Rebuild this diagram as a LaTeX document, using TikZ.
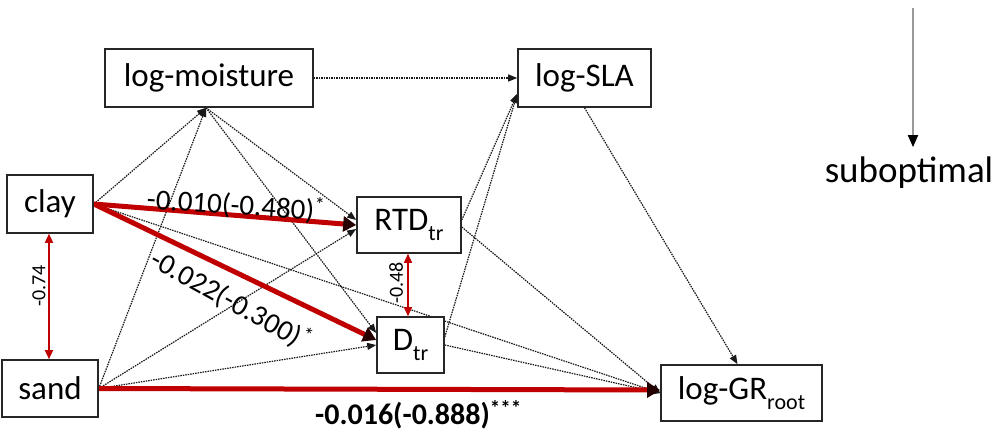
\documentclass[tikz,border=0pt]{standalone}
\usepackage{fontspec}
\setmainfont{Carlito}
\usetikzlibrary{arrows.meta,calc}
\pgfdeclarelayer{edges}
\pgfsetlayers{edges,main}
\definecolor{pathred}{HTML}{C00000}
\definecolor{boxline}{HTML}{262626}
\newcommand{\lowsub}[1]{\raisebox{-0.28em}{\fontsize{22}{24}\selectfont #1}}

\begin{document}
\begin{tikzpicture}[x=1pt,y=-1pt,
  box/.style={draw=boxline, line width=1.6pt, fill=white, inner sep=0pt,
    font=\fontsize{33}{40}\selectfont},
  weak/.style={draw=black!90, line width=1.2pt, dash pattern=on 1.5pt off 1pt,
    -{Triangle[length=9pt,width=7pt]}},
  strong/.style={draw=pathred, line width=5pt,
    -{Triangle[length=13pt,width=15pt,color=black!80!pathred]}},
  corr/.style={draw=pathred, line width=1.6pt,
    {Triangle[length=9pt,width=8pt]}-{Triangle[length=9pt,width=8pt]}},
  coef/.style={inner sep=0pt, font=\fontsize{29}{34}\selectfont},
  coefbold/.style={inner sep=0pt, font=\fontsize{30}{36}\selectfont\bfseries},
  corrlab/.style={inner sep=0pt, font=\fontsize{20}{24}\selectfont},
  legend/.style={inner sep=0pt, font=\fontsize{37}{44}\selectfont}
]
\useasboundingbox (0,0) rectangle (998,431);

% variables
\node[box, minimum width=208pt, minimum height=58pt] (moist) at (209,78) {log-moisture};
\node[box, minimum width=133pt, minimum height=58pt] (SLA) at (584.5,78) {log-SLA};
\node[box, minimum width=86pt, minimum height=58pt] (clay) at (50,204) {clay};
\node[box, minimum width=96pt, minimum height=57pt] (sand) at (50,388.5) {sand};
\node[box, minimum width=104pt, minimum height=56pt] (RTD) at (409,225) {RTD\lowsub{tr}};
\node[box, minimum width=67pt, minimum height=56pt] (D) at (410.5,345) {D\lowsub{tr}};
\node[box, minimum width=161pt, minimum height=56pt] (GR) at (741.5,393) {log-GR\lowsub{root}};

% shared end points
\coordinate (mhub) at ($(moist.south)+(-3,0)$);
\coordinate (slain) at ($(SLA.south west)+(0,-14)$);
\coordinate (rtdb) at ($(RTD.south)+(-1,0)$);
\coordinate (clayb) at ($(clay.south)+(-1,0)$);

\begin{pgfonlayer}{edges}
  % non-significant paths
  \draw[weak] (moist.east) -- (SLA.west);
  \draw[weak] (clay.east) -- (mhub);
  \draw[weak] (sand.east) -- (mhub);
  \draw[weak] (mhub) -- ($(RTD.west)+(0,-5)$);
  \draw[weak] (mhub) -- ($(D.west)+(0,-12)$);
  \draw[weak] (sand.east) -- ($(RTD.west)+(0,4)$);
  \draw[weak] (sand.east) -- (D.west);
  \draw[weak] (clay.east) -- (GR.west);
  \draw[weak] ($(RTD.east)+(0,-5)$) -- (slain);
  \draw[weak] ($(D.east)+(0,-8)$) -- (slain);
  \draw[weak] ($(RTD.east)+(0,2)$) -- (GR.west);
  \draw[weak] (D.east) -- (GR.west);
  \draw[weak] (SLA.south) -- ($(GR.north)+(-4,0)$);
  % significant paths
  \draw[strong] (clay.east) -- (RTD.west);
  \draw[strong] (clay.east) -- ($(D.west)+(0,-5)$);
  \draw[strong] (sand.east) -- ($(GR.west)+(0,-3)$);
  % correlations
  \draw[corr] (clayb) -- (clayb |- sand.north);
  \draw[corr] (rtdb) -- (rtdb |- D.north);
\end{pgfonlayer}

% coefficients
\node[coef, rotate=-4] (c1) at (236,205) {-0.010(-0.480)\textsuperscript{*}};
\node[coef, rotate=-29] (c2) at (231,300) {-0.022(-0.300)\textsuperscript{*}};
\node[coefbold, anchor=west] (c3) at (315,415) {-0.016(-0.888)\textsuperscript{***}};
\node[corrlab, rotate=90] (r1) at (39,286) {-0.74};
\node[corrlab, rotate=90] (r2) at (396,283) {-0.48};

% legend arrow
\coordinate (legtop) at (913,8);
\node[legend, anchor=base] (subopt) at (909,182) {suboptimal};
\draw[draw=black!40, line width=2pt, -{Triangle[length=12pt,width=10pt,color=black]},
  shorten >=9pt] (legtop) -- (legtop |- subopt.north);
\end{tikzpicture}
\end{document}
